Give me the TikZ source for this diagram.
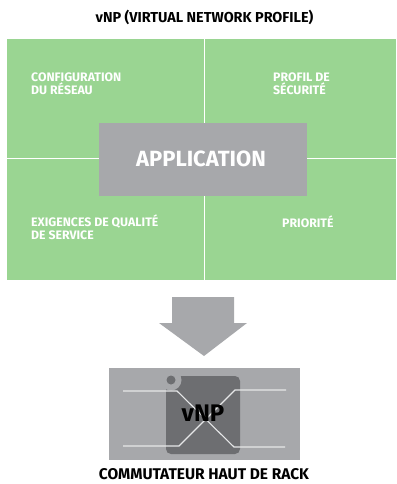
\documentclass[tikz,border=0pt]{standalone}
\usepackage{fontspec}
\setmainfont{Fira Sans}
\definecolor{vnpgreen}{HTML}{9AD592}
\definecolor{vnpgray}{HTML}{A7A8AB}
\definecolor{vnpdark}{HTML}{6D6E71}
\definecolor{vnpline}{HTML}{E6E7E8}
\tikzset{
    vnplabel/.style={text=white, font=\fontsize{12.3}{13.3}\selectfont\bfseries, anchor=west, align=left, inner sep=0pt},
    vnptitle/.style={text=black, font=\fontsize{14.4}{16}\selectfont\bfseries, inner sep=0pt},
    wire/.style={draw=vnpline, line width=1.1pt}
}
\begin{document}
\begin{tikzpicture}[x=1pt, y=-1pt]
    \useasboundingbox (0,0) rectangle (396,484);
    % profile
    \node[vnptitle] (title) at (204.5,17.5) {vNP (VIRTUAL NETWORK PROFILE)};
    \fill[vnpgreen] (7,39) rectangle (396,280);
    \draw[white, line width=1pt] (204.5,39)--(204.5,280);
    \draw[white, line width=1pt] (7,158.5)--(396,158.5);
    \node[vnplabel] (config) at (31,83.5) {CONFIGURATION\\DU RÉSEAU};
    \node[vnplabel] (secu) at (273,83.5) {PROFIL DE\\SÉCURITÉ};
    \node[vnplabel] (qos) at (31,227.5) {EXIGENCES DE QUALITÉ\\DE SERVICE};
    \node[vnplabel] (prio) at (282,222) {PRIORITÉ};
    \fill[vnpgray] (99,123) rectangle (307,196);
    \node[text=white, font=\fontsize{22}{24}\selectfont\bfseries, inner sep=0pt] (app) at (201,158.5) {APPLICATION};
    % arrow
    \fill[vnpgray] (172,297)--(234,297)--(234,323)--(247,323)--(204,356)--(159,323)--(172,323)--cycle;
    % switch
    \fill[vnpgray] (109,368) rectangle (300,460);
    \fill[vnpdark, rounded corners=5pt] (166,376) rectangle (240,454);
    \fill[vnpgray] (171,380) circle (10.5);
    \fill[vnpdark] (171,380) circle (4.5);
    \coordinate (wa) at (123,391);
    \coordinate (wb) at (177,391);
    \coordinate (wc) at (234,447);
    \coordinate (wd) at (285,447);
    \coordinate (we) at (123,446);
    \coordinate (wf) at (179,446);
    \coordinate (wg) at (235,390);
    \coordinate (wh) at (286,390);
    \draw[wire] (wa)--(wb)--(wc)--(wd);
    \draw[wire] (we)--(wf)--(wg)--(wh);
    \node[text=black, font=\fontsize{24}{26}\selectfont\bfseries, inner sep=0pt] (vnp) at (203,413) {vNP};
    \node[vnptitle, font=\fontsize{15.5}{17}\selectfont\bfseries] (tor) at (204,474.5) {COMMUTATEUR HAUT DE RACK};
\end{tikzpicture}
\end{document}
